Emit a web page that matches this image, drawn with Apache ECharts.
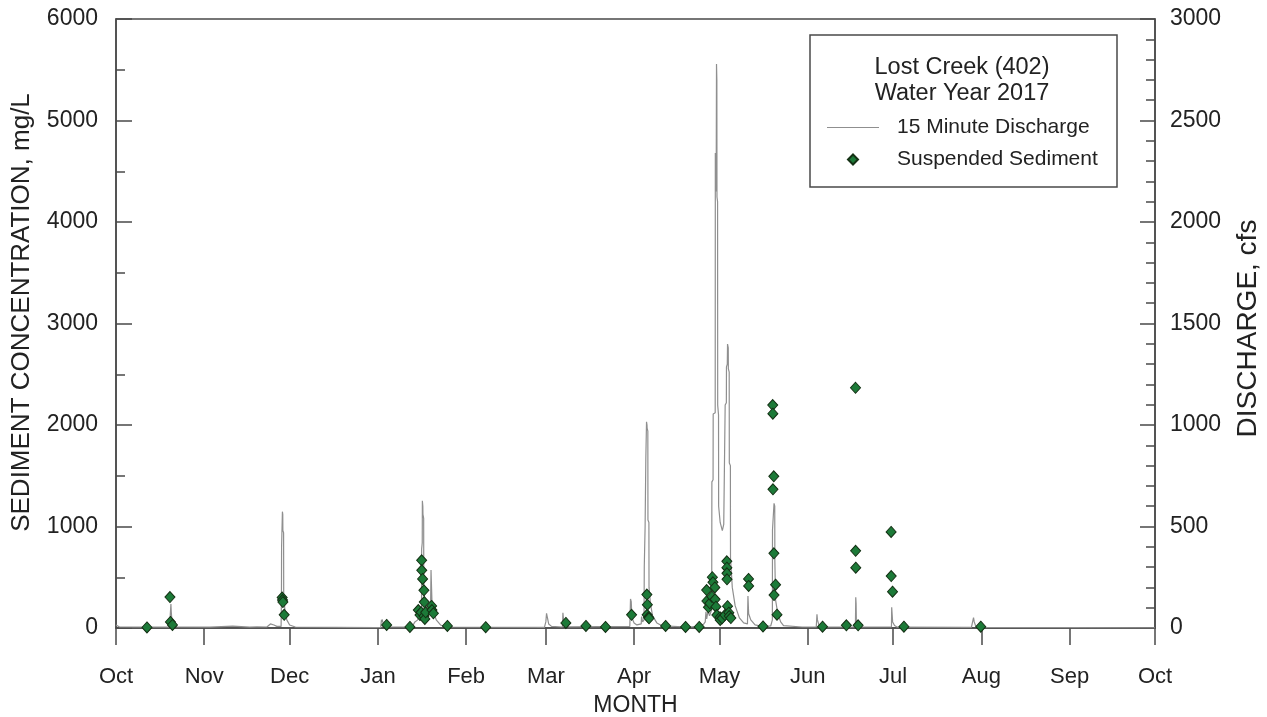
<!DOCTYPE html>
<html>
<head>
<meta charset="utf-8">
<script src="https://cdn.jsdelivr.net/npm/echarts@6/dist/echarts.min.js"></script>
<style>
  html, body { margin: 0; padding: 0; background: #fff; }
  #chart { width: 1267px; height: 717px; }
</style>
</head>
<body>
<div id="chart"></div>
<script>
// Month tick positions (first of each month) and their labels
const monthTicks = ['2016-10-01', '2016-11-01', '2016-12-01', '2017-01-01', '2017-02-01', '2017-03-01',
  '2017-04-01', '2017-05-01', '2017-06-01', '2017-07-01', '2017-08-01', '2017-09-01', '2017-10-01'];
const monthLabels = ['Oct', 'Nov', 'Dec', 'Jan', 'Feb', 'Mar', 'Apr', 'May', 'Jun', 'Jul', 'Aug', 'Sep', 'Oct'];

// 15 minute discharge, cfs (hydrograph vertices)
const discharge = [
  ['2016-10-01 00:00', 15], ['2016-10-01 12:00', 20], ['2016-10-02 06:00', 5], ['2016-10-19 20:00', 4],
  ['2016-10-20 02:00', 70], ['2016-10-20 07:00', 118], ['2016-10-20 10:00', 80], ['2016-10-20 16:00', 30],
  ['2016-10-21 06:00', 12], ['2016-10-22 12:00', 5], ['2016-11-03 00:00', 4], ['2016-11-03 06:00', 10],
  ['2016-11-11 00:00', 9], ['2016-11-11 12:00', 4], ['2016-11-17 00:00', 4], ['2016-11-17 06:00', 7],
  ['2016-11-19 12:00', 6], ['2016-11-20 00:00', 3], ['2016-11-23 00:00', 5], ['2016-11-24 06:00', 20],
  ['2016-11-25 12:00', 15], ['2016-11-26 12:00', 8], ['2016-11-28 00:00', 8], ['2016-11-28 03:00', 150],
  ['2016-11-28 04:00', 394], ['2016-11-28 10:00', 400], ['2016-11-28 11:00', 573], ['2016-11-28 14:00', 560],
  ['2016-11-28 15:00', 480], ['2016-11-28 21:00', 470], ['2016-11-28 22:00', 160], ['2016-11-29 08:00', 90],
  ['2016-11-30 00:00', 40], ['2016-12-01 00:00', 15], ['2016-12-03 00:00', 5], ['2016-12-31 12:00', 2],
  ['2017-01-02 00:00', 3], ['2017-01-02 06:00', 40], ['2017-01-02 10:00', 30], ['2017-01-02 12:00', 42],
  ['2017-01-03 00:00', 15], ['2017-01-04 00:00', 5], ['2017-01-13 00:00', 5], ['2017-01-14 00:00', 30],
  ['2017-01-15 00:00', 40], ['2017-01-15 12:00', 60], ['2017-01-16 08:00', 80], ['2017-01-16 09:00', 390],
  ['2017-01-16 14:00', 420], ['2017-01-16 15:00', 627], ['2017-01-16 19:00', 600], ['2017-01-16 20:00', 560],
  ['2017-01-17 02:00', 540], ['2017-01-17 03:00', 200], ['2017-01-17 12:00', 130], ['2017-01-18 00:00', 90],
  ['2017-01-18 20:00', 70], ['2017-01-19 12:00', 90], ['2017-01-19 16:00', 286], ['2017-01-19 22:00', 280],
  ['2017-01-20 00:00', 130], ['2017-01-20 12:00', 80], ['2017-01-21 12:00', 40], ['2017-01-23 00:00', 15],
  ['2017-01-25 00:00', 5], ['2017-02-28 12:00', 3], ['2017-03-01 00:00', 30], ['2017-03-01 06:00', 72],
  ['2017-03-01 12:00', 55], ['2017-03-02 00:00', 20], ['2017-03-03 00:00', 8], ['2017-03-06 20:00', 5],
  ['2017-03-07 00:00', 75], ['2017-03-07 06:00', 70], ['2017-03-07 07:00', 30], ['2017-03-08 00:00', 15],
  ['2017-03-09 00:00', 6], ['2017-03-30 12:00', 8], ['2017-03-30 18:00', 143], ['2017-03-31 00:00', 130],
  ['2017-03-31 06:00', 50], ['2017-04-01 00:00', 25], ['2017-04-02 00:00', 15], ['2017-04-03 12:00', 20],
  ['2017-04-03 15:00', 56], ['2017-04-04 00:00', 30], ['2017-04-04 12:00', 40], ['2017-04-04 14:00', 302],
  ['2017-04-04 20:00', 300], ['2017-04-04 21:00', 499], ['2017-04-05 02:00', 500], ['2017-04-05 03:00', 832],
  ['2017-04-05 08:00', 840], ['2017-04-05 09:00', 1016], ['2017-04-05 13:00', 1000], ['2017-04-05 14:00', 985],
  ['2017-04-05 20:00', 970], ['2017-04-05 21:00', 532], ['2017-04-06 05:00', 520], ['2017-04-06 06:00', 200],
  ['2017-04-06 18:00', 120], ['2017-04-07 12:00', 60], ['2017-04-09 00:00', 25], ['2017-04-11 00:00', 10],
  ['2017-04-20 00:00', 5], ['2017-04-24 00:00', 8], ['2017-04-25 12:00', 20], ['2017-04-26 00:00', 30],
  ['2017-04-26 06:00', 80], ['2017-04-26 12:00', 45], ['2017-04-27 00:00', 85], ['2017-04-27 12:00', 60],
  ['2017-04-28 06:00', 90], ['2017-04-28 07:00', 300], ['2017-04-28 08:00', 720], ['2017-04-28 18:00', 730],
  ['2017-04-28 19:00', 1054], ['2017-04-29 12:00', 1060], ['2017-04-29 13:00', 2340], ['2017-04-29 20:00', 2150],
  ['2017-04-29 23:00', 2778], ['2017-04-30 02:00', 2700], ['2017-04-30 03:00', 2123], ['2017-04-30 08:00', 2100],
  ['2017-04-30 09:00', 1098], ['2017-04-30 16:00', 1050], ['2017-04-30 17:00', 600], ['2017-05-01 06:00', 520],
  ['2017-05-02 00:00', 480], ['2017-05-02 12:00', 510], ['2017-05-03 00:00', 1098], ['2017-05-03 10:00', 1110],
  ['2017-05-03 11:00', 1286], ['2017-05-03 18:00', 1300], ['2017-05-03 20:00', 1399], ['2017-05-04 02:00', 1380],
  ['2017-05-04 03:00', 1276], ['2017-05-04 10:00', 1260], ['2017-05-04 11:00', 813], ['2017-05-04 20:00', 800],
  ['2017-05-04 21:00', 345], ['2017-05-05 12:00', 200], ['2017-05-06 12:00', 110], ['2017-05-08 00:00', 50],
  ['2017-05-09 12:00', 25], ['2017-05-10 20:00', 20], ['2017-05-11 00:00', 158], ['2017-05-11 04:00', 150],
  ['2017-05-11 06:00', 70], ['2017-05-12 00:00', 40], ['2017-05-13 12:00', 15], ['2017-05-16 00:00', 8],
  ['2017-05-19 00:00', 10], ['2017-05-19 14:00', 40], ['2017-05-19 15:00', 483], ['2017-05-20 02:00', 490],
  ['2017-05-20 04:00', 614], ['2017-05-20 10:00', 600], ['2017-05-20 11:00', 327], ['2017-05-20 16:00', 320],
  ['2017-05-20 17:00', 138], ['2017-05-21 12:00', 70], ['2017-05-22 12:00', 30], ['2017-05-23 12:00', 12],
  ['2017-05-30 00:00', 5], ['2017-06-04 00:00', 5], ['2017-06-04 06:00', 67], ['2017-06-04 10:00', 40],
  ['2017-06-05 00:00', 12], ['2017-06-06 00:00', 5], ['2017-06-17 18:00', 5], ['2017-06-17 21:00', 151],
  ['2017-06-18 00:00', 120], ['2017-06-18 02:00', 40], ['2017-06-18 12:00', 15], ['2017-06-19 12:00', 5],
  ['2017-06-30 10:00', 5], ['2017-06-30 12:00', 102], ['2017-06-30 18:00', 95], ['2017-06-30 20:00', 30],
  ['2017-07-01 12:00', 12], ['2017-07-02 12:00', 4], ['2017-07-28 12:00', 3], ['2017-07-29 00:00', 35],
  ['2017-07-29 06:00', 51], ['2017-07-29 12:00', 30], ['2017-07-30 00:00', 10], ['2017-07-31 00:00', 3],
  ['2017-09-30 23:45', 1]
];

// Suspended sediment samples, mg/L
const sediment = [
  ['2016-10-11 21:00', 5], ['2016-10-19 23:00', 305], ['2016-10-20 03:00', 60], ['2016-10-20 20:00', 30],
  ['2016-11-28 09:00', 300], ['2016-11-28 12:00', 275], ['2016-11-28 15:00', 255], ['2016-11-29 02:00', 130],
  ['2017-01-04 02:00', 30], ['2017-01-12 06:00', 10], ['2017-01-15 05:00', 177], ['2017-01-15 19:00', 128],
  ['2017-01-16 05:00', 155], ['2017-01-16 09:00', 667], ['2017-01-16 10:00', 568], ['2017-01-16 17:00', 483],
  ['2017-01-17 04:00', 371], ['2017-01-17 05:00', 118], ['2017-01-17 07:00', 256], ['2017-01-17 12:00', 89],
  ['2017-01-17 19:00', 155], ['2017-01-19 21:00', 217], ['2017-01-20 00:00', 177], ['2017-01-20 12:00', 145],
  ['2017-01-25 10:00', 20], ['2017-02-07 21:00', 8], ['2017-03-08 01:00', 50], ['2017-03-15 02:00', 20],
  ['2017-03-21 23:00', 10], ['2017-03-31 03:00', 130], ['2017-04-05 12:00', 330], ['2017-04-05 14:00', 130],
  ['2017-04-05 16:00', 230], ['2017-04-06 02:00', 105], ['2017-04-06 06:00', 95], ['2017-04-12 02:00', 20],
  ['2017-04-19 02:00', 10], ['2017-04-23 21:00', 10], ['2017-04-26 12:00', 374], ['2017-04-26 14:00', 266],
  ['2017-04-27 03:00', 204], ['2017-04-27 15:00', 243], ['2017-04-28 08:00', 308], ['2017-04-28 12:00', 500],
  ['2017-04-28 17:00', 450], ['2017-04-29 09:00', 400], ['2017-04-29 11:00', 283], ['2017-04-29 18:00', 210],
  ['2017-04-30 02:00', 128], ['2017-05-01 05:00', 105], ['2017-05-01 06:00', 79], ['2017-05-01 22:00', 95],
  ['2017-05-02 22:00', 128], ['2017-05-03 14:00', 657], ['2017-05-03 14:30', 594], ['2017-05-03 15:00', 539],
  ['2017-05-03 15:30', 480], ['2017-05-03 20:00', 215], ['2017-05-04 07:00', 151], ['2017-05-04 10:00', 118],
  ['2017-05-05 00:00', 98], ['2017-05-11 05:00', 483], ['2017-05-11 06:00', 414], ['2017-05-16 07:00', 15],
  ['2017-05-19 17:00', 2197], ['2017-05-19 18:00', 2111], ['2017-05-19 19:00', 1366], ['2017-05-20 02:00', 1494],
  ['2017-05-20 03:00', 736], ['2017-05-20 04:00', 325], ['2017-05-20 17:00', 427], ['2017-05-21 05:00', 131],
  ['2017-06-06 05:00', 13], ['2017-06-14 14:00', 26], ['2017-06-17 19:00', 2367], ['2017-06-17 20:00', 761],
  ['2017-06-17 21:00', 594], ['2017-06-18 17:00', 26], ['2017-06-30 07:00', 946], ['2017-06-30 08:00', 512],
  ['2017-06-30 19:00', 358], ['2017-07-04 19:00', 13], ['2017-07-31 19:00', 13]
];

// Convert 'YYYY-MM-DD[ HH:mm]' to days since the start of the water year (Oct 1, 2016)
const DAY_MS = 86400000;
function utcMs(s) {
  const parts = s.split(' ');
  const d = parts[0].split('-').map(Number);
  const h = (parts[1] || '00:00').split(':').map(Number);
  return Date.UTC(d[0], d[1] - 1, d[2], h[0], h[1]);
}
const yearStart = utcMs(monthTicks[0]);
function toDay(s) { return (utcMs(s) - yearStart) / DAY_MS; }

const tickDays = monthTicks.map(toDay);
const axisColor = '#4a4a4a';
const textColor = '#222';
const fontFamily = "'Liberation Sans', Arial, sans-serif";
const plainNumber = v => String(v);

const chart = echarts.init(document.getElementById('chart'), null, { renderer: 'canvas' });

chart.setOption({
  animation: false,
  backgroundColor: '#fff',
  textStyle: { fontFamily: fontFamily, color: textColor },
  grid: {
    left: 116, right: 112, top: 19, bottom: 89,
    outerBoundsMode: 'none',
    containLabel: false,
    show: true, borderColor: axisColor, borderWidth: 1.5, backgroundColor: 'transparent'
  },
  xAxis: {
    type: 'value',
    min: tickDays[0],
    max: tickDays[tickDays.length - 1],
    name: 'MONTH',
    nameLocation: 'middle',
    nameGap: 66,
    nameTextStyle: { fontSize: 23, color: textColor, fontFamily: fontFamily },
    axisLine: { show: true, lineStyle: { color: axisColor, width: 1.5 } },
    axisTick: { show: true, inside: false, length: 17, customValues: tickDays,
      lineStyle: { color: axisColor, width: 1.5 } },
    axisLabel: {
      customValues: tickDays,
      margin: 38,
      fontSize: 22,
      color: textColor,
      fontFamily: fontFamily,
      formatter: function (v) {
        let best = 0;
        for (let i = 1; i < tickDays.length; i++) {
          if (Math.abs(tickDays[i] - v) < Math.abs(tickDays[best] - v)) best = i;
        }
        return monthLabels[best];
      }
    },
    splitLine: { show: false }
  },
  yAxis: [
    {
      type: 'value',
      position: 'left',
      min: 0, max: 6000, interval: 1000,
      name: 'SEDIMENT CONCENTRATION, mg/L',
      nameLocation: 'middle',
      nameRotate: 90,
      nameGap: 81,
      nameTextStyle: { fontSize: 26, color: textColor, fontFamily: fontFamily, padding: [0, 0, 0, 22] },
      axisLine: { show: true, lineStyle: { color: axisColor, width: 1.5 } },
      axisTick: { show: true, inside: true, length: 16, lineStyle: { color: axisColor, width: 1.5 } },
      minorTick: { show: true, splitNumber: 2, length: 9, lineStyle: { color: axisColor, width: 1.5 } },
      axisLabel: { margin: 18, fontSize: 23, color: textColor, fontFamily: fontFamily, formatter: plainNumber },
      splitLine: { show: false }
    },
    {
      type: 'value',
      position: 'right',
      min: 0, max: 3000, interval: 500,
      name: 'DISCHARGE, cfs',
      nameLocation: 'middle',
      nameRotate: 90,
      nameGap: 79,
      nameTextStyle: { fontSize: 28, color: textColor, fontFamily: fontFamily, padding: [0, 10, 0, 0] },
      axisLine: { show: true, lineStyle: { color: axisColor, width: 1.5 } },
      axisTick: { show: true, inside: true, length: 15, lineStyle: { color: axisColor, width: 1.5 } },
      minorTick: { show: true, splitNumber: 5, length: 9, lineStyle: { color: axisColor, width: 1.5 } },
      axisLabel: { margin: 15, fontSize: 23, color: textColor, fontFamily: fontFamily, formatter: plainNumber },
      splitLine: { show: false }
    }
  ],
  legend: {
    orient: 'vertical',
    left: 827,
    top: 117,
    itemWidth: 52,
    itemHeight: 10,
    itemGap: 11,
    padding: 0,
    symbolKeepAspect: true,
    textStyle: { fontSize: 21, color: textColor, fontFamily: fontFamily, padding: [0, 0, 0, 13] },
    data: [
      { name: '15 Minute Discharge', icon: 'path://M0,0H52V1.2H0Z' },
      { name: 'Suspended Sediment', icon: 'path://M5,0L10,5L5,10L0,5Z' }
    ]
  },
  graphic: [
    {
      type: 'rect',
      shape: { x: 810, y: 35, width: 307, height: 152 },
      style: { fill: 'transparent', stroke: axisColor, lineWidth: 1.5 },
      z: 5
    },
    {
      type: 'text',
      x: 962, y: 68,
      style: { text: 'Lost Creek (402)', fill: textColor, font: "23.5px 'Liberation Sans', Arial, sans-serif",
        textAlign: 'center', textVerticalAlign: 'middle' },
      z: 5
    },
    {
      type: 'text',
      x: 962, y: 94,
      style: { text: 'Water Year 2017', fill: textColor, font: "23.5px 'Liberation Sans', Arial, sans-serif",
        textAlign: 'center', textVerticalAlign: 'middle' },
      z: 5
    }
  ],
  series: [
    {
      name: '15 Minute Discharge',
      type: 'line',
      yAxisIndex: 1,
      symbol: 'none',
      lineStyle: { color: '#8f8f8f', width: 1.2 },
      itemStyle: { color: '#8f8f8f' },
      data: discharge.map(p => [toDay(p[0]), p[1]]),
      z: 2
    },
    {
      name: 'Suspended Sediment',
      type: 'scatter',
      yAxisIndex: 0,
      symbol: 'diamond',
      symbolSize: [10, 11],
      itemStyle: { color: '#1c7a38', borderColor: '#143014', borderWidth: 1, opacity: 1 },
      data: sediment.map(p => [toDay(p[0]), p[1]]),
      z: 3
    }
  ]
});
</script>
</body>
</html>
